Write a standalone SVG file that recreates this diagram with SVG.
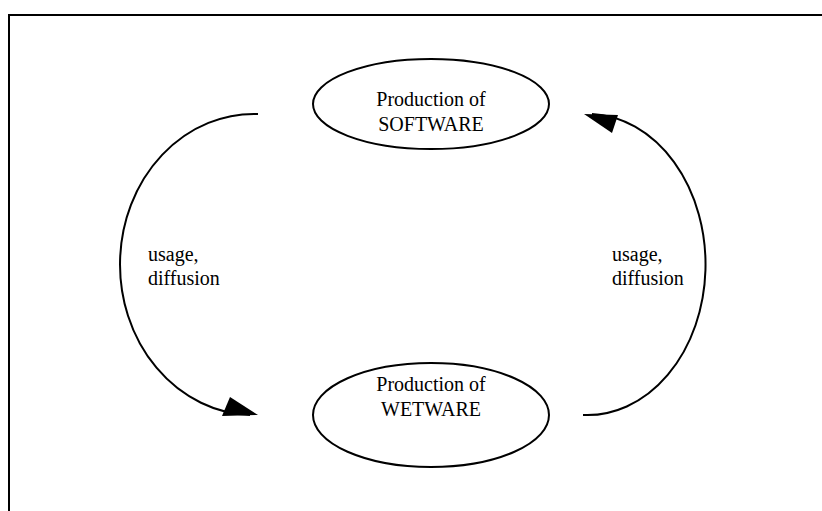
<svg xmlns="http://www.w3.org/2000/svg" width="822" height="511" viewBox="0 0 822 511">
<style>
.node{fill:#fff;stroke:#000;stroke-width:2}
.lbl{font-family:"Liberation Serif","Times New Roman",serif;font-size:20px;fill:#000}
.c{text-anchor:middle}
.arc{fill:none;stroke:#000;stroke-width:2}
.head{fill:#000;stroke:none}
</style>
<rect x="0" y="0" width="822" height="511" fill="#fff"/>
<path d="M9,511 V15 H822" fill="none" stroke="#000" stroke-width="2"/>
<g id="software">
<ellipse class="node" cx="431" cy="104" rx="118" ry="45"/>
<text class="lbl c" x="431" y="106">Production of</text>
<text class="lbl c" x="431" y="131">SOFTWARE</text>
</g>
<g id="wetware">
<ellipse class="node" cx="431" cy="415" rx="118" ry="52"/>
<text class="lbl c" x="431" y="391">Production of</text>
<text class="lbl c" x="431" y="416">WETWARE</text>
</g>
<g id="connectors">
<path class="arc" d="M258,114 A134 150.5 0 0 0 250,415"/>
<polygon class="head" points="258,415 230,397 222,416"/>
<text class="lbl" x="148" y="261">usage,</text>
<text class="lbl" x="148" y="285">diffusion</text>
<path class="arc" d="M583,415 A118 150.5 0 0 0 592,114"/>
<polygon class="head" points="584,114 618,115 612,133"/>
<text class="lbl" x="612" y="261">usage,</text>
<text class="lbl" x="612" y="285">diffusion</text>
</g>
</svg>
